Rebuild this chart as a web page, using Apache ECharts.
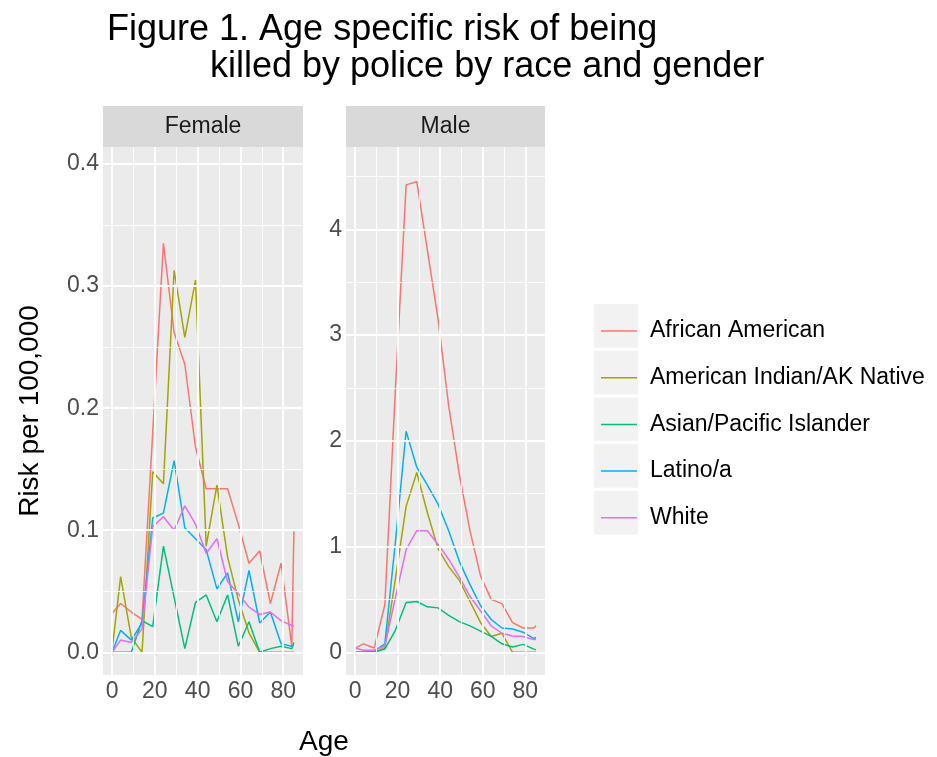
<!DOCTYPE html>
<html><head><meta charset="utf-8">
<script src="https://cdn.jsdelivr.net/npm/echarts@6/dist/echarts.min.js"></script>
<style>html,body{margin:0;padding:0;background:#fff}#c{width:937px;height:757px}</style>
</head><body><div id="c"></div>
<script>
// ---- data ----
const ages = [0, 4, 9, 14, 19, 24, 29, 34, 39, 44, 49, 54, 59, 64, 69, 74, 79, 84, 85];
const seriesNames = ['African American', 'American Indian/AK Native', 'Asian/Pacific Islander', 'Latino/a', 'White'];
const facets = ['Female', 'Male'];

const femaleAfricanAmerican = [0.032, 0.040, 0.033, 0.027, 0.180, 0.335, 0.262, 0.236, 0.168, 0.134, 0.134, 0.134, 0.105, 0.073, 0.083, 0.040, 0.073, 0.005, 0.099];
const femaleAmericanIndian  = [0.002, 0.062, 0.012, 0.000, 0.148, 0.138, 0.313, 0.258, 0.305, 0.087, 0.137, 0.078, 0.043, 0.016, 0.000, 0.000, 0.000, 0.000, 0.000];
const femaleAsianPacific    = [0.000, 0.000, 0.000, 0.026, 0.021, 0.087, 0.045, 0.003, 0.041, 0.047, 0.025, 0.047, 0.005, 0.025, 0.000, 0.003, 0.005, 0.003, 0.008];
const femaleLatino          = [0.000, 0.018, 0.010, 0.024, 0.110, 0.114, 0.157, 0.102, 0.093, 0.084, 0.052, 0.065, 0.025, 0.067, 0.024, 0.033, 0.007, 0.005, 0.006];
const femaleWhite           = [0.000, 0.010, 0.008, 0.019, 0.103, 0.111, 0.100, 0.120, 0.105, 0.081, 0.093, 0.058, 0.048, 0.037, 0.031, 0.033, 0.026, 0.022, 0.021];

const maleAfricanAmerican = [0.04, 0.08, 0.04, 0.45, 2.50, 4.42, 4.45, 3.80, 3.15, 2.33, 1.68, 1.15, 0.72, 0.50, 0.46, 0.28, 0.23, 0.23, 0.25];
const maleAmericanIndian  = [0.00, 0.00, 0.00, 0.04, 0.70, 1.38, 1.70, 1.32, 0.98, 0.81, 0.68, 0.48, 0.28, 0.15, 0.18, 0.00, 0.00, 0.00, 0.00];
const maleAsianPacific    = [0.00, 0.00, 0.00, 0.03, 0.21, 0.47, 0.48, 0.43, 0.42, 0.35, 0.29, 0.25, 0.20, 0.15, 0.08, 0.05, 0.075, 0.03, 0.025];
const maleLatino          = [0.00, 0.00, 0.01, 0.08, 1.05, 2.09, 1.75, 1.58, 1.40, 1.15, 0.86, 0.64, 0.44, 0.31, 0.23, 0.22, 0.19, 0.13, 0.14];
const maleWhite           = [0.04, 0.02, 0.02, 0.06, 0.52, 0.97, 1.15, 1.15, 1.02, 0.88, 0.71, 0.53, 0.39, 0.25, 0.18, 0.155, 0.15, 0.12, 0.12];

const xTicks = [0, 20, 40, 60, 80];
const xMinorTicks = [10, 30, 50, 70];
const femaleYTicks = [0, 0.1, 0.2, 0.3, 0.4];
const femaleYMinorTicks = [0.05, 0.15, 0.25, 0.35];
const maleYTicks = [0, 1, 2, 3, 4];
const maleYMinorTicks = [0.5, 1.5, 2.5, 3.5, 4.5];

// ---- styling / layout ----
const colors = ['#F8766D', '#A3A500', '#00BF7D', '#00B0F6', '#E76BF3'];
const FONT = '"Liberation Sans", Arial, sans-serif';
const facetValues = [
  [femaleAfricanAmerican, femaleAmericanIndian, femaleAsianPacific, femaleLatino, femaleWhite],
  [maleAfricanAmerican, maleAmericanIndian, maleAsianPacific, maleLatino, maleWhite]
];
const facetYTicks = [femaleYTicks, maleYTicks];
const facetYMinor = [femaleYMinorTicks, maleYMinorTicks];
const facetYRange = [[-0.0186, 0.414], [-0.2147, 4.778]];
const panels = [{left: 103, width: 200}, {left: 346, width: 199}];
const PANEL_TOP = 147, PANEL_H = 528, STRIP_H = 41;

const grids = panels.map(p => ({left: p.left, top: PANEL_TOP, width: p.width, height: PANEL_H,
  show: true, backgroundColor: '#EBEBEB', borderWidth: 0, containLabel: false}));

const xAxes = panels.map((p, i) => ({
  gridIndex: i, type: 'value', min: -4.25, max: 89.25,
  axisLine: {show: false}, splitLine: {show: false},
  axisTick: {show: true, length: 4, lineStyle: {color: '#333333', width: 1.1}, customValues: xTicks},
  axisLabel: {customValues: xTicks, color: '#4D4D4D', fontSize: 23, margin: 5, fontFamily: FONT}
}));

const yAxes = panels.map((p, i) => ({
  gridIndex: i, type: 'value', min: facetYRange[i][0], max: facetYRange[i][1],
  axisLine: {show: false}, splitLine: {show: false},
  axisTick: {show: true, length: 4, lineStyle: {color: '#333333', width: 1.1}, customValues: facetYTicks[i]},
  axisLabel: {customValues: facetYTicks[i], color: '#4D4D4D', fontSize: 23, margin: 4, fontFamily: FONT,
    formatter: v => i === 0 ? v.toFixed(1) : String(Math.round(v))},
  name: i === 0 ? 'Risk per 100,000' : '', nameLocation: 'middle', nameGap: 59,
  nameTextStyle: {fontSize: 28, color: '#000', fontFamily: FONT}
}));

const series = [];
panels.forEach((p, i) => {
  const lines = [];
  facetYMinor[i].forEach(v => lines.push({yAxis: v, lineStyle: {width: 0.9}}));
  xMinorTicks.forEach(v => lines.push({xAxis: v, lineStyle: {width: 0.9}}));
  facetYTicks[i].forEach(v => lines.push({yAxis: v, lineStyle: {width: 1.8}}));
  xTicks.forEach(v => lines.push({xAxis: v, lineStyle: {width: 1.8}}));
  series.push({
    type: 'line', name: 'grid' + i, xAxisIndex: i, yAxisIndex: i, data: [], z: 1,
    silent: true, animation: false,
    markLine: {silent: true, symbol: ['none', 'none'], animation: false, label: {show: false},
      lineStyle: {color: '#FFFFFF', type: 'solid'}, emphasis: {disabled: true}, data: lines}
  });
  seriesNames.forEach((name, j) => {
    series.push({
      type: 'line', name: name, xAxisIndex: i, yAxisIndex: i, z: 3,
      data: ages.map((a, k) => [a, facetValues[i][j][k]]),
      showSymbol: false, symbol: 'none', animation: false,
      color: colors[j], lineStyle: {width: 1.5, color: colors[j]}
    });
  });
});

const graphic = [];
panels.forEach((p, i) => {
  graphic.push({type: 'rect', z: 0, shape: {x: p.left, y: PANEL_TOP - STRIP_H, width: p.width, height: STRIP_H}, style: {fill: '#D9D9D9'}});
  graphic.push({type: 'text', z: 1, x: p.left + p.width / 2, y: PANEL_TOP - STRIP_H / 2,
    style: {text: facets[i], fontSize: 23, fill: '#1A1A1A', fontFamily: FONT, align: 'center', verticalAlign: 'middle'}});
});
graphic.push({type: 'text', x: 324, y: 742, style: {text: 'Age', fontSize: 28, fill: '#000', fontFamily: FONT, align: 'center', verticalAlign: 'middle'}});
seriesNames.forEach((n, j) => {
  graphic.push({type: 'rect', z: 0, shape: {x: 594, y: 304 + j * 46.7, width: 44, height: 43.7}, style: {fill: '#F2F2F2'}});
});

const option = {
  backgroundColor: '#FFFFFF',
  animation: false,
  title: [
    {text: 'Figure 1. Age specific risk of being', left: 102, top: 7, textStyle: {fontSize: 36, fontWeight: 'normal', color: '#000', fontFamily: FONT}},
    {text: 'killed by police by race and gender', left: 205, top: 44, textStyle: {fontSize: 36, fontWeight: 'normal', color: '#000', fontFamily: FONT}}
  ],
  legend: {
    data: seriesNames, orient: 'vertical', left: 596, top: 311, itemWidth: 36, itemHeight: 1.5,
    icon: 'rect', itemGap: 16.7, selectedMode: false,
    textStyle: {fontSize: 23, lineHeight: 30, color: '#000', fontFamily: FONT, padding: [0, 0, 0, 8]}
  },
  grid: grids, xAxis: xAxes, yAxis: yAxes, series: series, graphic: graphic
};
const chart = echarts.init(document.getElementById('c'), null, {renderer: 'canvas'});
chart.setOption(option);
</script></body></html>
